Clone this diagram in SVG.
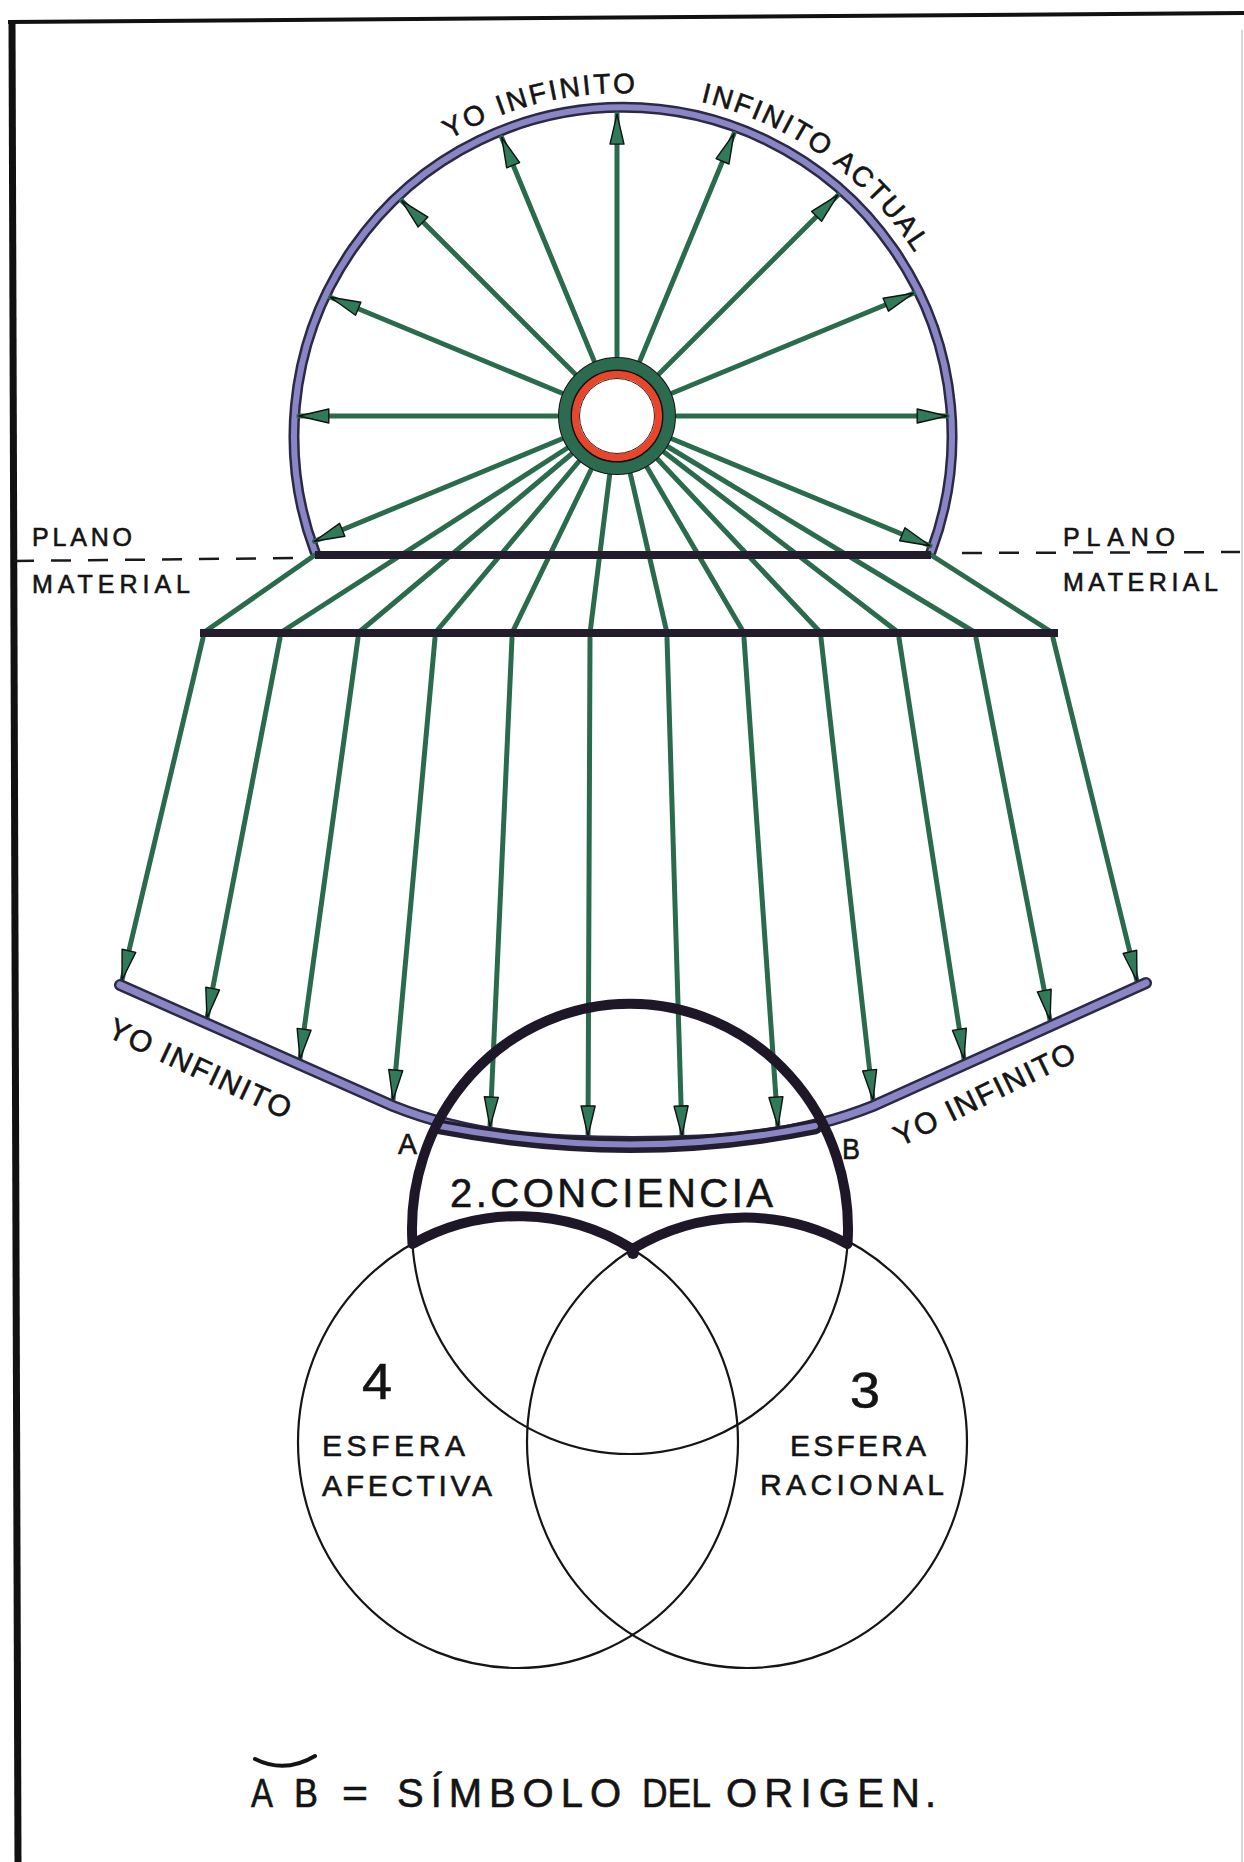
<svg xmlns="http://www.w3.org/2000/svg" xmlns:xlink="http://www.w3.org/1999/xlink" width="1244" height="1862" viewBox="0 0 1244 1862">
  <style>
    .lbl { font-family: "Liberation Sans", "DejaVu Sans", sans-serif; fill: #141414; stroke: #141414; stroke-width: 0.6; }
    .spoke { stroke: #2a6a4d; stroke-width: 5; stroke-linecap: round; fill: none; }
    .arw { marker-end: url(#head); }
    .bar { stroke: #231c2d; stroke-width: 8; stroke-linecap: butt; fill: none; }
    .dash { stroke: #1a1a1a; stroke-width: 2.5; stroke-dasharray: 20 17; fill: none; }
    .lavU { stroke: #2c2944; fill: none; stroke-linecap: round; }
    .lavO { stroke: #8a86c6; fill: none; stroke-linecap: round; }
    .thin { stroke: #151515; stroke-width: 2.2; fill: none; }
    .thick { stroke: #1e1727; stroke-width: 10; fill: none; stroke-linejoin: round; }
  </style>
  <defs>
    <marker id="head" markerUnits="userSpaceOnUse" markerWidth="34" markerHeight="20" viewBox="-2 -2 34 20" refX="30" refY="8" orient="auto">
      <path d="M0,1 L30,8 L0,15 Z" fill="#2f7a59" stroke="#111" stroke-width="1.4" stroke-linejoin="round"/>
    </marker>
    <path id="topTextArc" d="M378.3,194.3 A346 346 0 0 1 948.1 320.7"/>
  </defs>
  <rect width="1244" height="1862" fill="#ffffff"/>

  <g id="frame">
    <path d="M12,20 L18,1862" stroke="#111" stroke-width="7" fill="none"/>
    <path d="M8,22 L1244,13" stroke="#111" stroke-width="4" fill="none"/>
    <path d="M1242,30 L1242,1862" stroke="#c8c8c8" stroke-width="1.5" fill="none"/>
  </g>

  <g id="yo-infinito-circle">
    <path class="lavU" stroke-width="11" d="M315,552 A329 329 0 1 1 931 552"/>
    <path class="lavO" stroke-width="6" d="M315,552 A329 329 0 1 1 931 552"/>
  </g>

  <g id="connectors">
    <g id="radial-spokes" class="spoke arw">
      <line x1="557" y1="416" x2="298.8" y2="416"/>
      <line x1="561.6" y1="393" x2="330.5" y2="297.3"/>
      <line x1="574.6" y1="373.6" x2="401.8" y2="200.8"/>
      <line x1="594" y1="360.6" x2="501.7" y2="137.5"/>
      <line x1="617" y1="356" x2="617" y2="114.1"/>
      <line x1="640" y1="360.6" x2="734" y2="133.6"/>
      <line x1="659.4" y1="373.6" x2="837.8" y2="195.2"/>
      <line x1="672.4" y1="393" x2="913.5" y2="293.2"/>
      <line x1="677" y1="416" x2="947.2" y2="416"/>
      <line x1="672.4" y1="439" x2="930" y2="545.7"/>
      <line x1="561.6" y1="439" x2="314.5" y2="541.3"/>
    </g>
    <g id="fan-lines" class="spoke">
      <line x1="315" y1="555" x2="203" y2="633"/>
      <line x1="566.6" y1="448.5" x2="280" y2="633"/>
      <line x1="571" y1="454.5" x2="358" y2="633"/>
      <line x1="578.4" y1="462" x2="435" y2="633"/>
      <line x1="590.9" y1="470" x2="512" y2="633"/>
      <line x1="609.6" y1="475.5" x2="590" y2="633"/>
      <line x1="630.5" y1="474.5" x2="667" y2="633"/>
      <line x1="647.3" y1="467.8" x2="744" y2="633"/>
      <line x1="658.1" y1="459.7" x2="821" y2="633"/>
      <line x1="664.6" y1="452.6" x2="899" y2="633"/>
      <line x1="668.3" y1="447" x2="976" y2="633"/>
      <line x1="931" y1="555" x2="1053" y2="633"/>
    </g>
    <g id="descending-arrows" class="spoke arw">
      <line x1="203" y1="638" x2="122" y2="980"/>
      <line x1="280" y1="638" x2="207" y2="1018"/>
      <line x1="358" y1="638" x2="300" y2="1059"/>
      <line x1="435" y1="638" x2="393" y2="1100"/>
      <line x1="512" y1="638" x2="490" y2="1127"/>
      <line x1="590" y1="638" x2="588" y2="1136"/>
      <line x1="667" y1="638" x2="682" y2="1136"/>
      <line x1="744" y1="638" x2="778" y2="1127"/>
      <line x1="821" y1="638" x2="873" y2="1100"/>
      <line x1="899" y1="638" x2="964" y2="1059"/>
      <line x1="976" y1="638" x2="1050" y2="1020"/>
      <line x1="1053" y1="638" x2="1137" y2="981"/>
    </g>
  </g>

  <g id="hub">
    <circle cx="617" cy="416" r="58" fill="none" stroke="#111" stroke-width="2"/>
    <circle cx="617" cy="416" r="52" fill="none" stroke="#2d6b50" stroke-width="12"/>
    <circle cx="617" cy="416" r="45.5" fill="#fff" stroke="#111" stroke-width="2"/>
    <circle cx="617" cy="416" r="41.5" fill="#fff" stroke="#e8452b" stroke-width="7"/>
    <circle cx="617" cy="416" r="37.5" fill="none" stroke="#3a1a14" stroke-width="1"/>
  </g>

  <g id="plano-material">
    <line class="bar" x1="315" y1="555" x2="931" y2="555"/>
    <line class="bar" x1="200" y1="633" x2="1058" y2="633"/>
    <path class="dash" d="M14,561 L300,558"/>
    <path class="dash" d="M962,553 L1240,552"/>
    <text class="lbl" x="32" y="546" font-size="25" textLength="100">PLANO</text>
    <text class="lbl" x="32" y="593" font-size="25" textLength="158">MATERIAL</text>
    <text class="lbl" x="1063" y="546" font-size="25" textLength="112">PLANO</text>
    <text class="lbl" x="1063" y="591" font-size="25" textLength="155">MATERIAL</text>
  </g>

  <g id="top-labels">
    <text class="lbl" font-size="28" letter-spacing="2.6"><textPath xlink:href="#topTextArc" href="#topTextArc" startOffset="90">YO INFINITO</textPath></text>
    <text class="lbl" font-size="28" letter-spacing="2.3"><textPath xlink:href="#topTextArc" href="#topTextArc" startOffset="350">INFINITO ACTUAL</textPath></text>
  </g>

  <g id="yo-infinito-arc">
    <path class="lavU" stroke-width="12" d="M120,985 L393,1106 C473,1138 553,1142 633,1142 C713,1142 793,1138 873,1106 L1146,983"/>
    <path class="lavO" stroke-width="7" d="M120,985 L393,1106 C473,1138 553,1142 633,1142 C713,1142 793,1138 873,1106 L1146,983"/>
    <path d="M440,1127 Q633,1164 815,1127" stroke="#231d30" stroke-width="15" fill="none" stroke-linecap="round"/>
    <path d="M440,1126 Q633,1163 815,1126" stroke="#8a86c6" stroke-width="6" fill="none" stroke-linecap="round"/>
    <text class="lbl" font-size="30" textLength="198" transform="translate(106,1036) rotate(25)">YO INFINITO</text>
    <text class="lbl" font-size="30" textLength="198" transform="translate(900,1147) rotate(-26)">YO INFINITO</text>
    <text class="lbl" x="398" y="1154" font-size="30" textLength="19" lengthAdjust="spacingAndGlyphs">A</text>
    <text class="lbl" x="842" y="1159" font-size="30" textLength="18" lengthAdjust="spacingAndGlyphs">B</text>
  </g>

  <g id="esfera-afectiva">
    <ellipse class="thin" cx="518" cy="1442" rx="220" ry="226"/>
    <text class="lbl" x="362" y="1399" font-size="50" textLength="30" lengthAdjust="spacingAndGlyphs">4</text>
    <text class="lbl" x="322" y="1456" font-size="30" textLength="143">ESFERA</text>
    <text class="lbl" x="322" y="1496" font-size="30" textLength="170">AFECTIVA</text>
  </g>

  <g id="esfera-racional">
    <ellipse class="thin" cx="747" cy="1442" rx="220" ry="226"/>
    <text class="lbl" x="850" y="1408" font-size="50" textLength="30" lengthAdjust="spacingAndGlyphs">3</text>
    <text class="lbl" x="790" y="1456" font-size="30" textLength="136">ESFERA</text>
    <text class="lbl" x="760" y="1495" font-size="30" textLength="184">RACIONAL</text>
  </g>

  <g id="conciencia">
    <ellipse class="thin" cx="630" cy="1229" rx="218" ry="225"/>
    <path class="thick" d="M412.5,1244 A218 225 0 1 1 847.5 1244 A220 226 0 0 0 632.5 1249 A220 226 0 0 0 412.5 1244 Z"/>
    <circle cx="633" cy="1253" r="6" fill="#1e1727"/>
    <text class="lbl" x="450" y="1207" font-size="40" textLength="323">2.CONCIENCIA</text>
  </g>

  <g id="caption">
    <path d="M255,1759 Q285,1774 315,1756" stroke="#141414" stroke-width="4" fill="none" stroke-linecap="round"/>
    <text class="lbl" font-size="40" y="1807" stroke-width="0">
      <tspan x="251" textLength="22" lengthAdjust="spacingAndGlyphs">A</tspan><tspan x="294" textLength="24" lengthAdjust="spacingAndGlyphs">B</tspan><tspan x="342" textLength="26" lengthAdjust="spacingAndGlyphs">=</tspan><tspan x="397" textLength="224">SÍMBOLO</tspan><tspan x="642" textLength="69" lengthAdjust="spacingAndGlyphs">DEL</tspan><tspan x="726" textLength="194">ORIGEN</tspan><tspan x="925">.</tspan>
    </text>
  </g>
</svg>
